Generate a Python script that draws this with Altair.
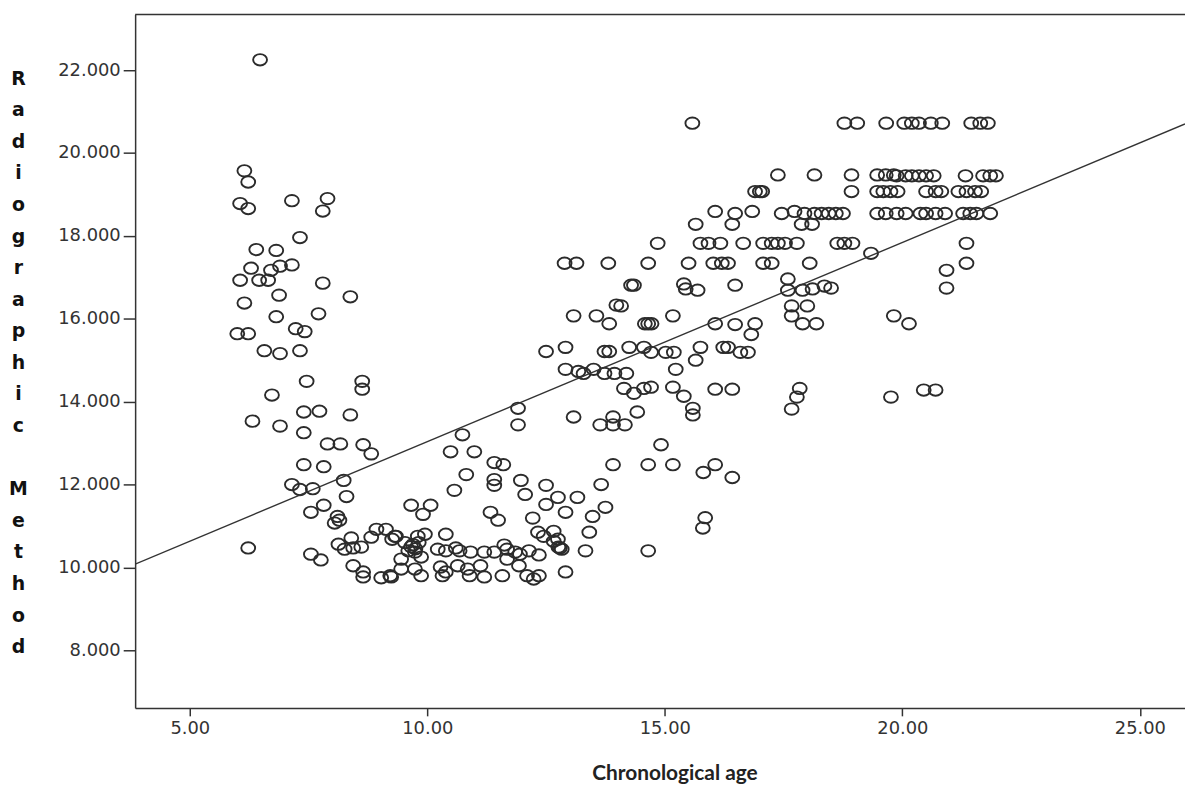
import altair as alt
import pandas as pd

# Chronological age (x) and Radiographic Method (y)
ages = [
    6.48, 6.15, 6.23, 6.06, 6.23, 7.15, 7.9, 7.8, 7.32, 6.40, 6.82, 6.29, 6.71, 6.9, 7.15, 6.06, 6.46, 6.65, 7.8, 6.88, 8.38, 6.15, 6.82, 7.71,
    6.0, 6.23, 7.23, 7.42, 6.57, 6.9, 7.32, 7.46, 8.63, 8.63, 6.73, 7.4, 7.73, 6.32, 6.9, 8.38, 7.4, 7.9, 8.17, 8.65, 8.82, 7.4, 7.82, 8.24,
    7.15, 7.32, 7.59, 8.3, 7.82, 7.55, 8.11, 8.15, 8.05, 6.23, 7.55, 7.76, 8.4, 8.13, 8.26, 8.44, 8.61, 8.82, 8.93, 9.13, 9.34, 8.44, 8.65,
    8.65, 9.03, 9.22,
    10.82, 11.41, 11.41, 11.97, 12.5, 13.66, 10.57, 12.06, 12.75, 13.16, 9.66, 10.07, 9.91, 12.5, 13.75, 11.33, 11.49, 12.22, 12.91, 13.48,
    12.33, 12.45, 12.66, 12.75, 12.79, 13.41, 13.33, 12.91, 10.39,
    9.32, 9.53, 9.66, 9.8, 9.95, 9.6, 9.74, 9.87, 9.45, 9.26, 9.7, 9.75, 9.82,
    10.22, 10.39, 10.6, 10.68, 10.91, 11.2, 11.41, 11.62, 11.68, 11.85, 11.95, 12.14, 12.35, 11.68, 11.93, 12.66, 12.76, 12.83,
    9.45, 9.74, 9.87, 9.24, 10.28, 10.39, 10.32, 10.64, 10.85, 10.89, 11.12, 11.2, 11.58, 12.1, 12.24, 12.35,
    14.08, 13.08, 13.56, 13.83, 14.58, 14.65, 14.72, 12.5, 12.91, 13.73, 13.83, 14.25, 14.56, 14.71, 12.91, 13.18, 13.29, 13.5, 13.73, 13.94,
    14.19, 14.14, 14.35, 14.56, 14.71, 14.42, 13.08, 13.64, 13.91, 13.91, 14.16, 11.91, 11.91, 10.74, 10.49, 10.99, 11.41, 11.6, 13.91,
    14.65, 14.65,
    12.89, 13.14, 13.81, 14.65, 14.29, 14.35, 13.98,
    16.9, 17.0, 17.05, 18.93, 19.47, 19.6, 19.75, 19.9,
    16.06, 16.48, 16.84, 16.42, 15.65, 17.46, 17.73, 17.94, 18.15, 18.3, 18.45, 18.6, 18.75, 17.88, 18.1, 19.47, 19.65,
    14.85, 15.75, 15.92, 16.17, 16.65, 17.07, 17.25, 17.38, 17.53, 17.78, 18.63, 18.78, 18.95,
    15.5, 16.02, 16.2, 16.33, 17.07, 17.25, 18.05,
    15.4, 15.44, 15.69, 16.48, 17.59, 17.59, 17.9, 18.11, 18.36, 18.5, 19.34,
    15.17, 16.06, 16.48, 16.9, 16.82, 17.67, 18.0, 17.67, 17.9, 18.19, 19.82, 20.14,
    15.02, 15.19, 15.75, 15.65, 15.23, 16.23, 16.33, 16.59, 16.75,
    15.17, 15.4, 15.59, 15.59, 16.06, 16.42, 17.84, 17.78, 17.67, 19.76,
    14.92, 15.17, 15.81, 16.06, 16.42,
    15.58, 18.78, 19.05, 19.66, 17.38, 18.15, 18.93, 19.47, 19.65, 19.82,
    20.04, 20.2, 20.35, 20.6, 20.84, 21.45, 21.64, 21.8,
    19.88, 20.07, 20.2, 20.35, 20.5, 20.66, 21.33, 21.7, 21.85, 21.97,
    20.5, 20.7, 20.82, 21.18, 21.35, 21.53, 21.66,
    19.88, 20.07, 20.38, 20.5, 20.7, 20.9, 21.28, 21.43, 21.56, 21.85,
    21.35, 21.35, 20.93, 20.93, 20.45, 20.7,
    15.85, 15.8,
]
radio = [
    22.25, 19.57, 19.3, 18.78, 18.66, 18.85, 18.9, 18.6, 17.96, 17.67, 17.65, 17.22, 17.17, 17.27, 17.3, 16.93, 16.93, 16.93, 16.86, 16.57, 16.53, 16.38, 16.05, 16.12,
    15.64, 15.64, 15.76, 15.69, 15.23, 15.16, 15.23, 14.49, 14.49, 14.3, 14.16, 13.75, 13.77, 13.53, 13.41, 13.68, 13.25, 12.98, 12.98, 12.96, 12.74, 12.48, 12.43, 12.1,
    12.0, 11.88, 11.9, 11.71, 11.5, 11.33, 11.23, 11.14, 11.07, 10.47, 10.32, 10.18, 10.71, 10.56, 10.44, 10.47, 10.49, 10.73, 10.92, 10.92, 10.75, 10.04, 9.89,
    9.77, 9.75, 9.8,
    12.24, 12.12, 11.98, 12.1, 11.98, 12.0, 11.86, 11.76, 11.69, 11.69, 11.5, 11.5, 11.28, 11.52, 11.45, 11.33, 11.14, 11.19, 11.33, 11.23,
    10.85, 10.75, 10.87, 10.68, 10.47, 10.85, 10.4, 9.89, 10.8,
    10.75, 10.6, 10.5, 10.75, 10.8, 10.4, 10.37, 10.25, 10.2, 10.68, 10.55, 10.45, 10.6,
    10.44, 10.4, 10.47, 10.4, 10.37, 10.37, 10.37, 10.54, 10.44, 10.37, 10.32, 10.4, 10.3, 10.2, 10.04, 10.63, 10.49, 10.44,
    9.96, 9.96, 9.8, 9.77, 10.01, 9.89, 9.8, 10.04, 9.96, 9.8, 10.04, 9.77, 9.8, 9.8, 9.72, 9.8,
    16.31, 16.07, 16.07, 15.88, 15.88, 15.88, 15.88, 15.21, 15.31, 15.21, 15.21, 15.31, 15.31, 15.19, 14.78, 14.73, 14.68, 14.78, 14.68, 14.68,
    14.68, 14.32, 14.2, 14.32, 14.35, 13.75, 13.63, 13.44, 13.63, 13.44, 13.44, 13.84, 13.44, 13.2, 12.79, 12.79, 12.53, 12.48, 12.48,
    12.48, 10.4,
    17.34, 17.34, 17.34, 17.34, 16.81, 16.81, 16.33,
    19.07, 19.07, 19.07, 19.07, 19.07, 19.07, 19.07, 19.07,
    18.59, 18.54, 18.59, 18.28, 18.28, 18.54, 18.59, 18.54, 18.54, 18.54, 18.54, 18.54, 18.54, 18.28, 18.28, 18.54, 18.54,
    17.82, 17.82, 17.82, 17.82, 17.82, 17.82, 17.82, 17.82, 17.82, 17.82, 17.82, 17.82, 17.82,
    17.34, 17.34, 17.34, 17.34, 17.34, 17.34, 17.34,
    16.84, 16.72, 16.69, 16.81, 16.96, 16.69, 16.69, 16.72, 16.79, 16.74, 17.58,
    16.07, 15.88, 15.86, 15.88, 15.62, 16.31, 16.31, 16.07, 15.88, 15.88, 16.07, 15.88,
    15.19, 15.19, 15.31, 15.0, 14.78, 15.31, 15.31, 15.19, 15.19,
    14.35, 14.13, 13.84, 13.68, 14.3, 14.3, 14.32, 14.11, 13.82, 14.11,
    12.96, 12.48, 12.29, 12.48, 12.17,
    20.72, 20.72, 20.72, 20.72, 19.47, 19.47, 19.47, 19.47, 19.47, 19.47,
    20.72, 20.72, 20.72, 20.72, 20.72, 20.72, 20.72, 20.72,
    19.45, 19.45, 19.45, 19.45, 19.45, 19.45, 19.45, 19.45, 19.45, 19.45,
    19.07, 19.07, 19.07, 19.07, 19.07, 19.07, 19.07,
    18.54, 18.54, 18.54, 18.54, 18.54, 18.54, 18.54, 18.54, 18.54, 18.54,
    17.82, 17.34, 17.17, 16.74, 14.28, 14.28,
    11.2, 10.95,
]

# fit line end points
fit_x = [3.85, 25.95]
fit_y = [10.08, 20.70]

x_ticks = [5, 10, 15, 20, 25]
y_ticks = [8, 10, 12, 14, 16, 18, 20, 22]
y_title = ["R", "a", "d", "i", "o", "g", "r", "a", "p", "h", "i", "c", "\u200b",
           "M", "e", "t", "h", "o", "d"]

X_DOMAIN = [3.85, 25.95]
Y_DOMAIN = [6.61, 23.34]
W, H = 1057, 698

pts = pd.DataFrame({"age": ages, "radio": radio})
fit = pd.DataFrame({"age": fit_x, "radio": fit_y})

xscale = alt.Scale(domain=X_DOMAIN, nice=False, zero=False)
yscale = alt.Scale(domain=Y_DOMAIN, nice=False, zero=False)

x_axis = alt.Axis(
    values=x_ticks, format=".2f", grid=False,
    labelFont="DejaVu Sans", labelFontSize=18, labelColor="#333333", labelPadding=4,
    tickSize=8, tickColor="#333333", tickWidth=1.5,
    domainColor="#333333", domainWidth=1.5,
    title="Chronological age", titleFont="Lato", titleFontSize=21, titleFontWeight="bold",
    titleColor="#222222", titlePadding=25, titleX=543,
)
y_axis = alt.Axis(
    values=y_ticks, format=".3f", grid=False,
    labelFont="DejaVu Sans", labelFontSize=18, labelColor="#333333", labelPadding=3,
    tickSize=12, tickColor="#333333", tickWidth=1.5,
    domainColor="#333333", domainWidth=1.5,
    title=y_title, titleAngle=0, titleFont="DejaVu Sans", titleFontWeight="bold",
    titleFontSize=19, titleLineHeight=31.8, titleColor="#111111",
    titleAlign="center", titleBaseline="top", titleX=-118, titleY=55,
)

ellipse = "M -1 0 A 1 0.82 0 1 1 1 0 A 1 0.82 0 1 1 -1 0 Z"

points = alt.Chart(pts).mark_point(
    shape=ellipse, size=196, filled=False, stroke="#2b2b2b", strokeWidth=1.9, opacity=1
).encode(
    x=alt.X("age:Q", scale=xscale, axis=x_axis),
    y=alt.Y("radio:Q", scale=yscale, axis=y_axis),
)

line = alt.Chart(fit).mark_line(color="#333333", strokeWidth=1.4, clip=True).encode(
    x=alt.X("age:Q", scale=xscale),
    y=alt.Y("radio:Q", scale=yscale),
)

top = alt.Chart(pd.DataFrame({"k": [0]})).mark_rule(color="#333333", strokeWidth=1.5).encode(
    x=alt.value(0), x2=alt.value(W), y=alt.value(0)
)

chart = alt.layer(points, line, top).properties(
    width=W, height=H,
    autosize=alt.AutoSizeParams(type="none"),
    padding={"left": 128, "top": 4, "right": 0, "bottom": 77},
    background="white",
).configure_view(stroke=None)

chart.save("out.html", embed_options={"renderer": "svg", "actions": False})
